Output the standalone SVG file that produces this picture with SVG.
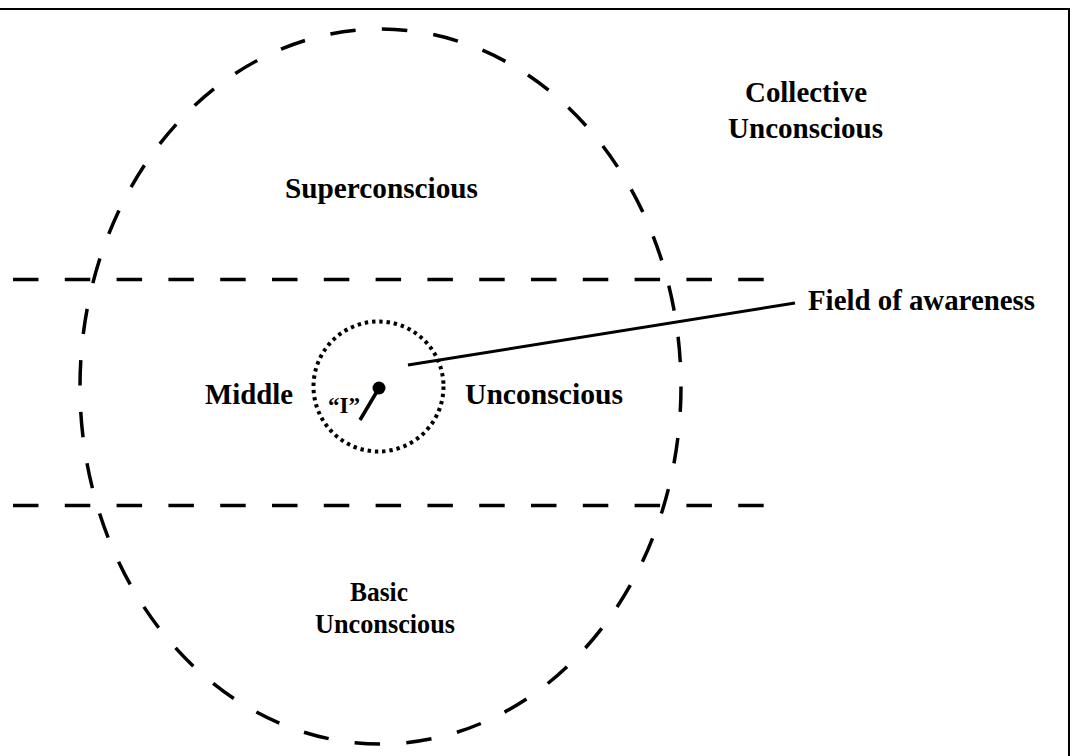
<svg xmlns="http://www.w3.org/2000/svg" width="1075" height="756" viewBox="0 0 1075 756">
<style>
.t{font-family:"Liberation Serif","Times New Roman",serif;font-weight:bold;fill:#000}
.big{font-size:30px}
.mid{font-size:27px}
.sm{font-size:23px}
.dash{fill:none;stroke:#000;stroke-width:3.5;stroke-dasharray:25.5 26.3}
</style>
<rect width="1075" height="756" fill="#fff"/>
<rect x="-2" y="9" width="1071" height="760" fill="none" stroke="#000" stroke-width="2"/>
<g id="outer-ellipse">
<ellipse cx="380.5" cy="386.5" rx="300.5" ry="357.5" class="dash"/>
</g>
<g id="divider-top">
<line x1="13" y1="279.5" x2="765" y2="279.5" class="dash"/>
</g>
<g id="divider-bottom">
<line x1="13" y1="505.5" x2="765" y2="505.5" class="dash"/>
</g>
<g id="field-of-awareness-circle">
<circle cx="378.5" cy="386.5" r="65" fill="none" stroke="#000" stroke-width="4" stroke-dasharray="3.4 3.9"/>
</g>
<g id="connectors">
<line x1="408" y1="365" x2="795" y2="303" stroke="#000" stroke-width="3"/>
<line x1="379" y1="388" x2="360" y2="420" stroke="#000" stroke-width="3.5"/>
</g>
<g id="I-node">
<circle cx="379" cy="388" r="6.5" fill="#000"/>
<text class="t sm" x="328" y="413" textLength="32" lengthAdjust="spacingAndGlyphs">“I”</text>
</g>
<g id="collective">
<text class="t big" x="745" y="102" textLength="122" lengthAdjust="spacingAndGlyphs">Collective</text>
<text class="t big" x="728" y="138" textLength="155" lengthAdjust="spacingAndGlyphs">Unconscious</text>
</g>
<g id="superconscious">
<text class="t big" x="285" y="198" textLength="193" lengthAdjust="spacingAndGlyphs">Superconscious</text>
</g>
<g id="field-label">
<text class="t big" x="808" y="310" textLength="227" lengthAdjust="spacingAndGlyphs">Field of awareness</text>
</g>
<g id="middle">
<text class="t big" x="205" y="404" textLength="88" lengthAdjust="spacingAndGlyphs">Middle</text>
<text class="t big" x="465" y="404" textLength="158" lengthAdjust="spacingAndGlyphs">Unconscious</text>
</g>
<g id="basic">
<text class="t mid" x="350" y="601" textLength="58" lengthAdjust="spacingAndGlyphs">Basic</text>
<text class="t mid" x="315" y="633" textLength="140" lengthAdjust="spacingAndGlyphs">Unconscious</text>
</g>
</svg>
